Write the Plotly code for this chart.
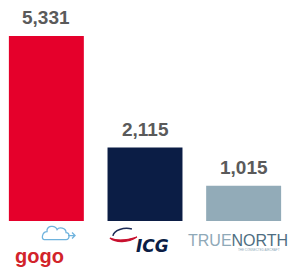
import plotly.graph_objects as go

companies = ["Gogo", "ICG", "TrueNorth"]
values = [5331, 2115, 1015]
labels = ["5,331", "2,115", "1,015"]
colors = ["#E5002B", "#0B1D45", "#92ABB8"]

fig = go.Figure()
fig.add_trace(go.Bar(
    x=companies, y=values, marker=dict(color=colors, line=dict(width=0)),
    width=0.76, hoverinfo="skip", showlegend=False,
))

for c, v, t in zip(companies, values, labels):
    fig.add_annotation(x=c, y=v, text="<b>%s</b>" % t, showarrow=False,
                       yanchor="bottom", yshift=6,
                       font=dict(family="Liberation Sans, Arial", size=19, color="#5A5A5A"))

def logo_text(x, y, text, font):
    fig.add_annotation(xref="paper", yref="paper", x=x, y=y, text=text, showarrow=False,
                       xanchor="center", yanchor="middle", font=font)

# --- logos (plot area is 221 px tall; paper y below 0 goes into bottom margin) ---
logo_text(0.135, -0.158, "<b>gogo</b>", dict(family="Liberation Sans, Arial", size=20, color="#D2232A"))
fig.add_shape(type="path", xref="paper", yref="paper", xsizemode="pixel", ysizemode="pixel",
              xanchor=0.145, yanchor=-0.084,
              path="M 2 0 L 24 0 C 28 0 28 7 24 7 C 24 12 17 13 15 10 C 13 15 4 14 5 8 C 0 8 -1 0 2 0 Z",
              line=dict(color="#6FB3DD", width=1.3))
fig.add_shape(type="path", xref="paper", yref="paper", xsizemode="pixel", ysizemode="pixel",
              xanchor=0.145, yanchor=-0.084,
              path="M 26 4 L 33 4 M 30 7 L 33 4 L 30 1",
              line=dict(color="#6FB3DD", width=1.3))
# ICG swoosh
fig.add_shape(type="path", xref="paper", yref="paper", xsizemode="pixel", ysizemode="pixel",
              xanchor=0.379, yanchor=-0.095,
              path="M 0 4 C 6 -1 18 -1 27 5 C 18 2 7 1 0 4 Z",
              line=dict(color="#C8102E", width=1.2), fillcolor="#C8102E")
fig.add_shape(type="path", xref="paper", yref="paper", xsizemode="pixel", ysizemode="pixel",
              xanchor=0.379, yanchor=-0.095,
              path="M 3 6 C 4 12 14 15 22 13",
              line=dict(color="#1B2A55", width=1.5))
logo_text(0.527, -0.113, "<b><i>ICG</i></b>", dict(family="DejaVu Sans", size=17, color="#0B1D45"))
logo_text(0.82, -0.086,
          "<span style='color:#8FA9B8'>TRUE</span><span style='color:#4F6E82'>NORTH</span>",
          dict(family="Liberation Sans", size=16))
logo_text(0.892, -0.13, "THE CONNECTED AIRCRAFT", dict(family="Liberation Sans", size=3, color="#8FA9B8"))

fig.update_layout(
    width=290, height=269, margin=dict(l=0, r=0, t=0, b=48),
    plot_bgcolor="white", paper_bgcolor="white", bargap=0.24,
    xaxis=dict(range=[-0.47, 2.47], showticklabels=False, showgrid=False, zeroline=False,
               showline=False, ticks=""),
    yaxis=dict(range=[0, 6368], visible=False),
)
fig.write_html("out.html", config={"displayModeBar": False},
               post_script="document.body.style.margin='0px';")
